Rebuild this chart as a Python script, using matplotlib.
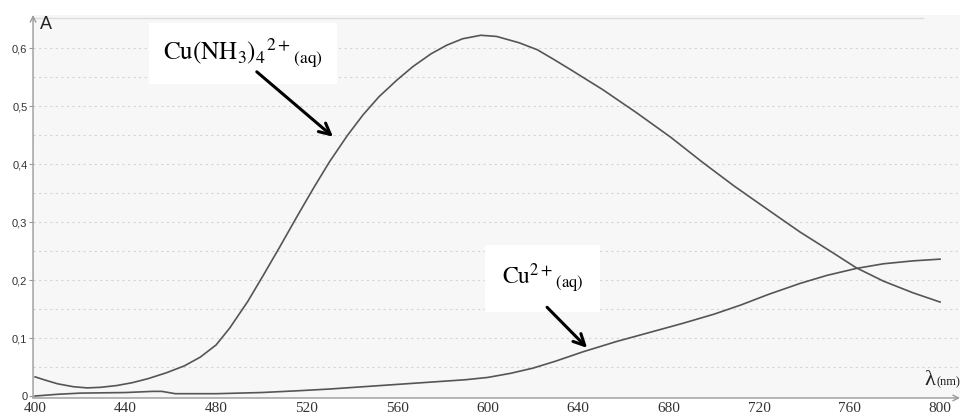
import matplotlib
matplotlib.use("Agg")
import matplotlib.pyplot as plt

# Cu(NH3)4 2+ absorption spectrum
nh3_nm = [400, 404, 410, 417, 423, 429, 436, 443, 450, 458, 466, 473, 480, 486,
          494, 501, 508, 516, 523, 530, 538, 545, 552, 560, 567, 575, 582, 589,
          597, 604, 614, 622, 629, 637, 644, 651, 666, 681, 695, 709, 724, 738,
          753, 763, 775, 788, 800]
nh3_A = [0.033, 0.028, 0.021, 0.016, 0.014, 0.015, 0.018, 0.023, 0.030, 0.040,
         0.052, 0.067, 0.088, 0.117, 0.163, 0.209, 0.256, 0.311, 0.358, 0.403,
         0.449, 0.485, 0.516, 0.545, 0.568, 0.590, 0.605, 0.616, 0.622, 0.620,
         0.609, 0.597, 0.581, 0.562, 0.545, 0.528, 0.488, 0.446, 0.403, 0.362,
         0.321, 0.283, 0.246, 0.221, 0.198, 0.178, 0.162]

# Cu 2+ absorption spectrum
cu_nm = [400, 410, 420, 440, 452, 456, 462, 480, 500, 516, 530, 545, 560, 575,
         590, 600, 610, 620, 630, 642, 657, 672, 686, 700, 712, 724, 738, 750,
         763, 775, 788, 800]
cu_A = [0.0, 0.003, 0.005, 0.006, 0.008, 0.008, 0.004, 0.004, 0.006, 0.009,
        0.012, 0.016, 0.020, 0.024, 0.028, 0.032, 0.039, 0.048, 0.060, 0.076,
        0.094, 0.110, 0.125, 0.141, 0.157, 0.175, 0.194, 0.208, 0.220, 0.228,
        0.233, 0.236]

x_ticks = [400, 440, 480, 520, 560, 600, 640, 680, 720, 760, 800]
y_ticks = [0, 0.1, 0.2, 0.3, 0.4, 0.5, 0.6]
y_labels = ["0", "0,1", "0,2", "0,3", "0,4", "0,5", "0,6"]
grid_levels = [0.05 * k for k in range(1, 13)]

plt.rcParams["mathtext.fontset"] = "stix"

fig = plt.figure(figsize=(9.77, 4.17), dpi=100)
ax = fig.add_axes([0.0338, 0.0456, 0.9488, 0.9185])
ax.set_facecolor("#f7f7f7")

# faint dotted rulings of the scanned sheet
for g in grid_levels:
    ax.axhline(g, color="#d4d4d4", lw=0.8, ls=(0, (2, 3)), zorder=0)

ax.plot(nh3_nm, nh3_A, color="#555555", lw=1.2, zorder=2)
ax.plot(cu_nm, cu_A, color="#555555", lw=1.2, zorder=2)

ax.set_xlim(399.1, 808.8)
ax.set_ylim(-0.0034, 0.657)

for s in ax.spines.values():
    s.set_visible(False)

# axes with arrow heads
ax.annotate("", xy=(1.0, 0.0), xytext=(0.0, 0.0), xycoords="axes fraction",
            arrowprops=dict(arrowstyle="->", color="#999999", lw=1.0,
                            shrinkA=0, shrinkB=0))
ax.annotate("", xy=(0.0, 1.0), xytext=(0.0, 0.0), xycoords="axes fraction",
            arrowprops=dict(arrowstyle="->", color="#999999", lw=1.0,
                            shrinkA=0, shrinkB=0))
ax.plot([0.0, 0.96], [0.993, 0.993], transform=ax.transAxes, color="#dddddd",
        lw=1.0, clip_on=False)

ax.set_xticks(x_ticks)
ax.set_xticklabels([str(v) for v in x_ticks], family="Liberation Serif",
                   fontsize=11)
ax.tick_params(axis="x", length=0, pad=3, colors="#333333")
ax.set_yticks(y_ticks)
ax.set_yticklabels(y_labels, family="Liberation Sans", fontsize=8)
ax.tick_params(axis="y", length=3, width=0.8, color="#999999", pad=1,
               labelcolor="#333333")

ax.text(0.008, 0.975, "A", transform=ax.transAxes, family="Liberation Sans",
        fontsize=13, ha="left", va="center", color="#222222")
ax.text(0.973, 0.045, "λ", transform=ax.transAxes, family="Liberation Serif",
        fontsize=16, ha="right", va="center", color="#222222")
ax.text(0.975, 0.04, "(nm)", transform=ax.transAxes, family="Liberation Serif",
        fontsize=9, ha="left", va="center", color="#222222")

ax.text(456.6, 0.579, r"$\mathrm{Cu(NH_3)_4{}^{2+}{}_{(aq)}}$", fontsize=18,
        ha="left", va="baseline", zorder=3,
        bbox=dict(fc="white", ec="none", pad=10))
ax.text(606.4, 0.191, r"$\mathrm{Cu^{2+}{}_{(aq)}}$", fontsize=17,
        ha="left", va="baseline", zorder=3,
        bbox=dict(fc="white", ec="none", pad=12))

ax.annotate("", xy=(531.7, 0.447), xytext=(498, 0.559),
            arrowprops=dict(arrowstyle="->,head_length=0.8,head_width=0.4",
                            color="black", lw=2.2, shrinkA=0, shrinkB=0),
            zorder=4)
ax.annotate("", xy=(644, 0.083), xytext=(626.3, 0.153),
            arrowprops=dict(arrowstyle="->,head_length=0.8,head_width=0.4",
                            color="black", lw=2.2, shrinkA=0, shrinkB=0),
            zorder=4)

fig.savefig("out.png", dpi=100, facecolor="white")
